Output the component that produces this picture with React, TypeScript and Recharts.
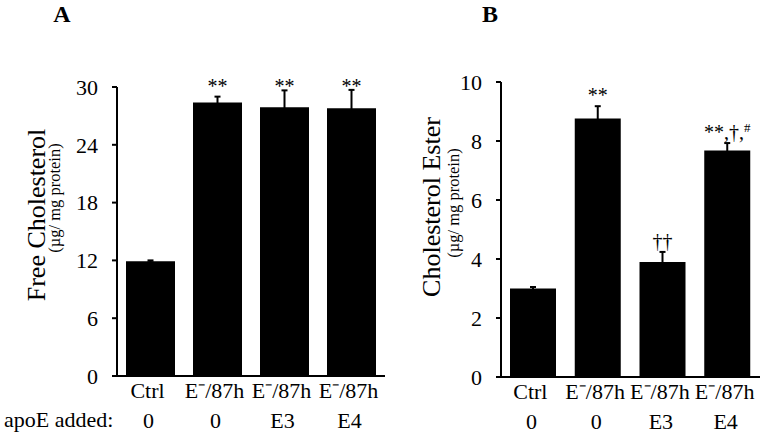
import { Bar, BarChart, ErrorBar, Label, LabelList, XAxis, YAxis } from "recharts";

const FONT = "'Liberation Serif', 'Times New Roman', Times, serif";

// categories shared by both panels
const categories = ["Ctrl", "E⁻/87h", "E⁻/87h", "E⁻/87h"];
const apoeAdded = ["0", "0", "E3", "E4"];

// panel A: free cholesterol (µg/mg protein)
const freeChol = [11.9, 28.4, 27.9, 27.8];
const freeCholErr = [0.1, 0.6, 1.75, 1.9];
const freeCholSig = ["", "**", "**", "**"];
const freeCholTicks = [0, 6, 12, 18, 24, 30];

// panel B: cholesterol ester (µg/mg protein)
const cholEster = [3.0, 8.76, 3.9, 7.68];
const cholEsterErr = [0.05, 0.42, 0.34, 0.25];
const cholEsterSig = ["", "**", "††", "**,†,#"];
const cholEsterTicks = [0, 2, 4, 6, 8, 10];

type Row = { id: number; value: number; err: number; sig: string };

const buildRows = (values: number[], errs: number[], sigs: string[]): Row[] =>
  values.map((v, i) => ({ id: i, value: v, err: errs[i], sig: sigs[i] }));

const CategoryTick = (props: any) => {
  const { x, y, payload, showRowTitle } = props;
  const i = Number(payload.value);
  return (
    <g fontFamily={FONT} fill="#000">
      <text x={x - 3} y={y + 22} textAnchor="middle" fontSize={22} fill="#000">
        {categories[i]}
      </text>
      <text x={x - 2} y={y + 52} textAnchor="middle" fontSize={22} fill="#000">
        {apoeAdded[i]}
      </text>
      {showRowTitle && i === 0 && (
        <text x={4} y={y + 51} textAnchor="start" fontSize={22} fill="#000">
          apoE added:
        </text>
      )}
    </g>
  );
};

const makeSigLabel = (rows: Row[], fixedTop?: number) => (props: any) => {
  const row = rows[Number(props.value)];
  if (!row || !row.sig) return null;
  const x = Number(props.x);
  const y = Number(props.y);
  const width = Number(props.width);
  const height = Number(props.height);
  const ppu = height / row.value;
  const zero = y + height;
  const base =
    fixedTop !== undefined ? zero - fixedTop * ppu + 6 : zero - (row.value + row.err) * ppu - 4;
  const parts = row.sig.split("#");
  return (
    <text x={x + width / 2} y={base} textAnchor="middle" fontFamily={FONT} fontSize={20} fill="#000">
      <tspan>{parts[0]}</tspan>
      {parts.length > 1 && (
        <tspan fontSize={13} dy={-7}>
          #
        </tspan>
      )}
    </text>
  );
};

type PanelProps = {
  rows: Row[];
  ticks: number[];
  width: number;
  left: number;
  top: number;
  right: number;
  yAxisWidth: number;
  xAxisHeight: number;
  barSize: number;
  letter: string;
  letterX: number;
  title: string;
  titleX: number;
  titleY: number;
  subX: number;
  subY: number;
  fixedSigTop?: number;
  showRowTitle?: boolean;
};

const Panel = (p: PanelProps) => {
  const axisStyle = { stroke: "#000", strokeWidth: 2 };
  return (
    <div style={{ position: "absolute", left: p.left, top: 0 }}>
      <BarChart
        width={p.width}
        height={435}
        data={p.rows}
        margin={{ top: p.top, right: p.right, bottom: 0, left: 0 }}
        barCategoryGap={0}
      >
        <XAxis
          dataKey="id"
          height={p.xAxisHeight}
          axisLine={axisStyle}
          tickLine={false}
          tickSize={0}
          tickMargin={0}
          interval={0}
          tick={<CategoryTick showRowTitle={p.showRowTitle} />}
        />
        <YAxis
          width={p.yAxisWidth}
          domain={[0, p.ticks[p.ticks.length - 1]]}
          ticks={p.ticks}
          interval={0}
          axisLine={axisStyle}
          tickLine={axisStyle}
          tickSize={5}
          tickMargin={14}
          tick={{ fill: "#000", fontSize: 22, fontFamily: FONT }}
        >
          <Label
            content={() => (
              <g fontFamily={FONT} fill="#000">
                <text x={p.letterX} y={22} textAnchor="middle" fontSize={24} fontWeight="bold">
                  {p.letter}
                </text>
                <text
                  transform={`translate(${p.titleX},${p.titleY}) rotate(-90)`}
                  textAnchor="middle"
                  fontSize={26}
                >
                  {p.title}
                </text>
                <text
                  transform={`translate(${p.subX},${p.subY}) rotate(-90)`}
                  textAnchor="middle"
                  fontSize={16.5}
                >
                  (µg/ mg protein)
                </text>
              </g>
            )}
          />
        </YAxis>
        <Bar dataKey="value" fill="#000" barSize={p.barSize} isAnimationActive={false}>
          <ErrorBar dataKey="err" direction="y" width={3} strokeWidth={2} stroke="#000" />
          <LabelList dataKey="id" content={makeSigLabel(p.rows, p.fixedSigTop)} />
        </Bar>
      </BarChart>
    </div>
  );
};

export default function App() {
  return (
    <div style={{ position: "absolute", left: 0, top: 0, width: 773, height: 435, background: "#fff" }}>
      <Panel
        rows={buildRows(freeChol, freeCholErr, freeCholSig)}
        ticks={freeCholTicks}
        width={390}
        left={0}
        top={87}
        right={5}
        yAxisWidth={117}
        xAxisHeight={59}
        barSize={49}
        letter="A"
        letterX={62}
        title="Free Cholesterol"
        titleX={45}
        titleY={215}
        subX={59.5}
        subY={198}
        fixedSigTop={30}
        showRowTitle
      />
      <Panel
        rows={buildRows(cholEster, cholEsterErr, cholEsterSig)}
        ticks={cholEsterTicks}
        width={383}
        left={390}
        top={82}
        right={13}
        yAxisWidth={111}
        xAxisHeight={58}
        barSize={46}
        letter="B"
        letterX={100}
        title="Cholesterol Ester"
        titleX={50}
        titleY={207}
        subX={68.5}
        subY={203}
      />
    </div>
  );
}
